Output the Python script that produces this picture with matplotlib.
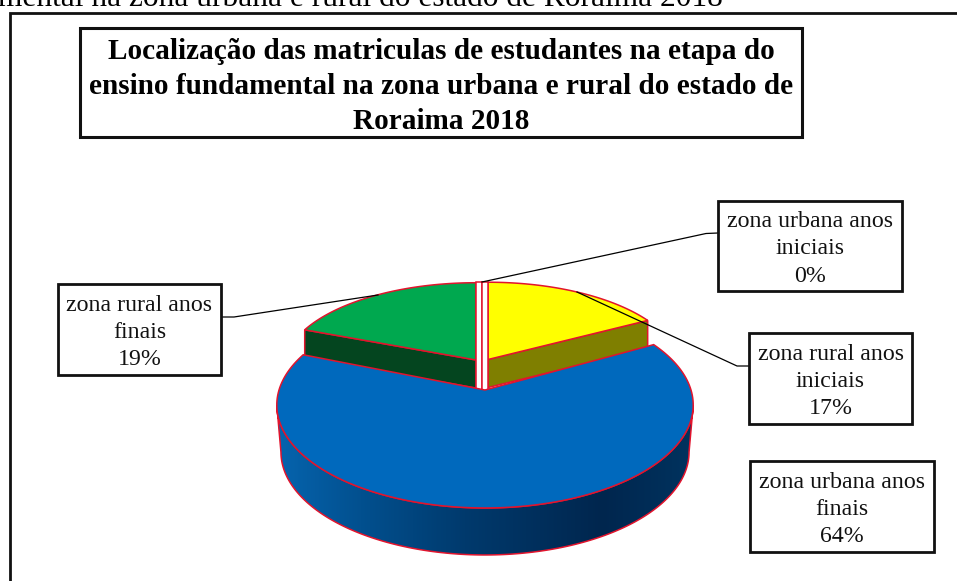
import numpy as np
import matplotlib
matplotlib.use("Agg")
import matplotlib.pyplot as plt
from matplotlib.patches import Polygon, Rectangle
from matplotlib.colors import LinearSegmentedColormap

# ---- data ----
categories = ["zona urbana anos\niniciais", "zona rural anos\niniciais",
              "zona urbana anos\nfinais", "zona rural anos\nfinais"]
shares = [0, 17, 64, 19]
chart_title = ("Localização das matriculas de estudantes na etapa do\n"
               "ensino fundamental na zona urbana e rural do estado de\n"
               "Roraima 2018")
page_caption = "mental na zona urbana e rural do estado de Roraima 2018"

# ---- style / layout (pixel space) ----
W, H = 957, 581
EDGE = "#e2142d"
SERIF = "Liberation Serif"
C_YELLOW, C_YELLOW_D = "#ffff00", "#7f7f00"
C_GREEN, C_GREEN_D = "#00a84f", "#04451f"
C_BLUE = "#0069bd"
FRONT = dict(cx=485.0, cy=390.0, R=206.0, Hz=100.8, k=0.1456)
BACK_R = dict(cx=488.0, cy=359.5, R=191.0, Hz=85.0, k=0.10)
BACK_L = dict(cx=476.0, cy=360.0, R=191.0, Hz=85.0, k=0.10)
DEPTH_BACK = 28
DEPTH_FRONT = 47

fig = plt.figure(figsize=(W / 100, H / 100), dpi=100, facecolor="white")
ax = fig.add_axes([0, 0, 1, 1])
ax.set_xlim(0, W)
ax.set_ylim(H, 0)
ax.axis("off")


def project(deg, p, scale=1.0, dy=0.0):
    a = np.radians(np.asarray(deg, dtype=float))
    u, v = np.cos(a), np.sin(a)
    s = 1 / (1 + p["k"] * v)
    return np.column_stack([p["cx"] + p["R"] * scale * u * s,
                            p["cy"] - p["Hz"] * v * s + dy])


def arc(a0, a1, p, **kw):
    return project(np.linspace(a0, a1, 160), p, **kw)


def apex(p, dy=0.0):
    return np.array([[p["cx"], p["cy"] + dy]])


# slice angles, clockwise from 12 o'clock
cum = np.cumsum([0] + shares) * 3.6
angles = [(90 - cum[i], 90 - cum[i + 1]) for i in range(len(shares))]
(_, _), (y0, y1), (b0, b1), (g0, g1) = angles

# page caption and outer frame
ax.text(723, 6.5, page_caption, family=SERIF, fontsize=22.6, ha="right",
        va="baseline", color="black")
ax.plot([10, 10, W + 5], [H + 5, 12.5, 12.5], color="#111111", lw=2.0,
        solid_joinstyle="miter", clip_on=True)

# green slice
gc = project([g0], BACK_L)[0]
ga = apex(BACK_L)[0]
ax.add_patch(Polygon([gc, ga, ga + [0, DEPTH_BACK], gc + [0, DEPTH_BACK]],
                     fc=C_GREEN_D, ec=EDGE, lw=1.1, zorder=2))
ax.add_patch(Polygon(np.vstack([apex(BACK_L), arc(g0, g1, BACK_L)]),
                     fc=C_GREEN, ec=EDGE, lw=1.1, zorder=2))

# yellow slice
yc = project([y1], BACK_R)[0]
ya = apex(BACK_R)[0]
ax.add_patch(Polygon([yc, ya, ya + [0, DEPTH_BACK], yc + [0, DEPTH_BACK]],
                     fc=C_YELLOW_D, ec=EDGE, lw=1.1, zorder=2))
ax.add_patch(Polygon(np.vstack([apex(BACK_R), arc(y0, y1, BACK_R)]),
                     fc=C_YELLOW, ec=EDGE, lw=1.1, zorder=2))

# zero-share slice: only its two cut faces are visible
top_y = project([90], BACK_R)[0][1]
bot_y = BACK_R["cy"] + DEPTH_BACK + 3
mid_x = (BACK_L["cx"] + BACK_R["cx"]) / 2
for xa, xb in [(BACK_L["cx"], mid_x), (mid_x, BACK_R["cx"] - 0.5)]:
    ax.add_patch(Rectangle((xa, top_y), xb - xa, bot_y - top_y, fc="white",
                           ec=EDGE, lw=1.1, zorder=2.5))

# blue slice: side wall with gradient, then top
wall_top = arc(-171.6, -8.4, FRONT)
wall_bot = arc(-171.6, -8.4, FRONT, scale=0.98, dy=DEPTH_FRONT)
wall = Polygon(np.vstack([wall_top, wall_bot[::-1]]), fc="none", ec=EDGE,
               lw=1.1, zorder=3.1)
ax.add_patch(wall)
grad_cmap = LinearSegmentedColormap.from_list(
    "wall", [(0, "#0664ae"), (0.2, "#02508f"), (0.45, "#003a6d"),
             (0.78, "#00264e"), (1, "#00335f")])
im = ax.imshow(np.linspace(0, 1, 256)[None, :], cmap=grad_cmap, aspect="auto",
               extent=[wall_top[:, 0].min(), wall_top[:, 0].max(),
                       wall_bot[:, 1].max(), FRONT["cy"]],
               zorder=3)
im.set_clip_path(wall)
ax.set_xlim(0, W)
ax.set_ylim(H, 0)
ax.add_patch(Polygon(np.vstack([apex(FRONT), arc(b0, b1, FRONT)]),
                     fc=C_BLUE, ec=EDGE, lw=1.1, zorder=3.2))


# label boxes and leaders
def box(x0, y0_, x1, y1_, lw=2.0):
    ax.add_patch(Rectangle((x0, y0_), x1 - x0, y1_ - y0_, fc="white",
                           ec="#111111", lw=lw, zorder=5))


box_pos = [(718, 201, 902, 291), (749, 333, 912, 424),
           (750, 461, 934, 552), (58, 284, 221, 375)]
leaders = [[(718, 233), (706, 233.5), (482, 282)],
           [(749, 366), (737, 366), (577, 292)],
           None,
           [(221, 317), (234, 317), (378, 295)]]
for name, val, pos, lead in zip(categories, shares, box_pos, leaders):
    if lead is not None:
        xs, ys = zip(*lead)
        ax.plot(xs, ys, color="black", lw=0.9, zorder=4)
    box(*pos)
    ax.text((pos[0] + pos[2]) / 2, (pos[1] + pos[3]) / 2 + 3,
            f"{name}\n{val}%", family=SERIF, fontsize=17.2, ha="center",
            va="center", linespacing=1.38, color="#111111", zorder=6)

box(80, 28, 802, 137, lw=2.2)
ax.text(441, 86.5, chart_title, family=SERIF, fontsize=21.1, fontweight="bold",
        ha="center", va="center", linespacing=1.36, color="black", zorder=6)

fig.savefig("out.png", dpi=100)
